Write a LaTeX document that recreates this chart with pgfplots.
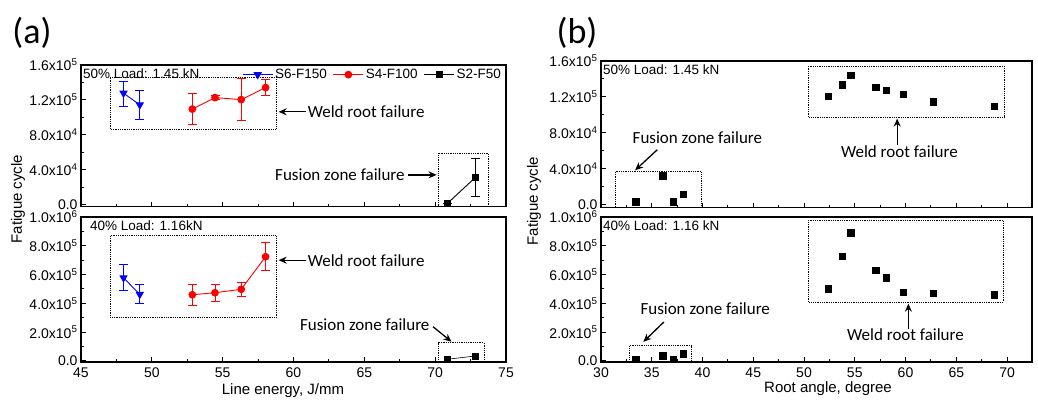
\documentclass[border=0pt]{standalone}
\usepackage{pgfplots}
\pgfplotsset{compat=1.18}
\usepackage{fontspec}
\setmainfont{Liberation Sans}
\newfontfamily\calib{Carlito}
\usetikzlibrary{arrows.meta}

\pgfplotsset{
  mystyle/.style={
    scale only axis, clip=false,
    /pgf/number format/assume math mode=true,
    tick align=inside, xtick pos=bottom, ytick pos=left,
    axis line style={line width=1.3pt},
    tick style={black, line width=1pt},
    major tick length=5pt, minor tick length=3pt,
    minor x tick num=1, minor y tick num=1,
    tick label style={font=\fontsize{14}{16}\selectfont},
    xticklabel style={yshift=-2pt},
    scaled ticks=false,
    xtick={30,35,...,75},
  },
  topy/.style={ymax=160000,
    ytick={0,40000,80000,120000,160000},
    yticklabels={0.0,4.0x10\textsuperscript{4},8.0x10\textsuperscript{4},1.2x10\textsuperscript{5},1.6x10\textsuperscript{5}}},
  boty/.style={ymin=-7000, ymax=1000000,
    ytick={0,200000,400000,600000,800000,1000000},
    yticklabels={0.0,2.0x10\textsuperscript{5},4.0x10\textsuperscript{5},6.0x10\textsuperscript{5},8.0x10\textsuperscript{5},1.0x10\textsuperscript{6}}},
  eb/.style={error bars/y dir=both, error bars/y explicit,
    error bars/error bar style={line width=0.9pt},
    error bars/error mark options={#1, rotate=90, mark size=4.5pt, line width=0.9pt}},
  bl/.style={blue, line width=0.9pt, mark=triangle*, mark size=4pt, mark options={rotate=180, solid}, eb=blue},
  rd/.style={red, line width=0.9pt, mark=*, mark size=3.4pt, mark options={solid}, eb=red},
  bk/.style={black, line width=0.9pt, mark=square*, mark size=3pt, mark options={solid}, eb=black},
  sq/.style={only marks, black, mark=square*, mark size=3.2pt},
}
\tikzset{
  box/.style={densely dotted, line width=0.8pt},
  arr/.style={-{Stealth[length=8pt,width=7pt]}, line width=1.3pt},
  ann/.style={font=\calib\fontsize{17}{20}\selectfont, inner sep=0pt},
}

\begin{document}
\begin{tikzpicture}
\path[use as bounding box] (0pt,0pt) rectangle (1038pt,399pt);

% ---------------- (a) top ----------------
\begin{axis}[mystyle, topy, ymin=-2300, at={(81pt,192.5pt)}, anchor=south west, width=425pt, height=141.5pt,
  xmin=45, xmax=75, xticklabels={},
  legend style={at={(1,1)}, anchor=north east, xshift=-3pt, yshift=-2pt, draw=none, fill=none,
    font=\fontsize{13.5}{15}\selectfont, inner sep=0pt, legend columns=3,
    /tikz/every even column/.append style={column sep=4pt}},
  legend image code/.code={\draw[mark repeat=2,mark phase=2] plot coordinates {(0pt,0pt) (15pt,0pt) (30pt,0pt)};}]
\addplot[bl] table[x=x, y=y, y error plus=ep, y error minus=em] {
x y ep em
48.0 127700 14000 14700
49.15 114300 16300 16800
};
\addlegendentry{S6-F150}
\addplot[rd] table[x=x, y=y, y error plus=ep, y error minus=em] {
x y ep em
52.86 109400 17800 17200
54.46 122600 2500 2500
56.31 120300 24700 24300
58.03 134100 9100 9500
};
\addlegendentry{S4-F100}
\addplot[bk] table[x=x, y=y, y error plus=ep, y error minus=em] {
x y ep em
70.88 1500 0 0
72.85 31200 21800 22200
};
\addlegendentry{S2-F50}
\draw[box] (axis cs:47.05,86500) rectangle (axis cs:58.76,146000);
\draw[box] (axis cs:70.2,-2000) rectangle (axis cs:73.75,59000);
\draw[arr] (axis cs:60.85,106300) -- (axis cs:58.95,106300);
\node[ann, anchor=west] at (axis cs:61.0,106300) {Weld root failure};
\draw[arr] (axis cs:68.1,34000) -- (axis cs:70.1,34000);
\node[ann] at (axis cs:63.28,34000) {Fusion zone failure};
\end{axis}

% ---------------- (a) bottom ----------------
\begin{axis}[mystyle, boty, at={(81pt,37pt)}, anchor=south west, width=425pt, height=145pt,
  xmin=45, xmax=75]
\addplot[bl] table[x=x, y=y, y error plus=ep, y error minus=em] {
x y ep em
48.0 578000 93000 90000
49.15 463000 72000 60000
};
\addplot[rd] table[x=x, y=y, y error plus=ep, y error minus=em] {
x y ep em
52.86 460000 72000 73000
54.46 474000 61000 62000
56.31 498000 46000 47000
58.03 724000 98000 92000
};
\addplot[black, line width=0.6pt, mark=square*, mark size=3pt, mark options={solid}] table {
70.88 12000
72.85 35000
};
\draw[box] (axis cs:47.05,300000) rectangle (axis cs:58.76,870000);
\draw[box] (axis cs:70.2,-3000) rectangle (axis cs:73.45,127000);
\draw[arr] (axis cs:60.85,700000) -- (axis cs:58.95,700000);
\node[ann, anchor=west] at (axis cs:61.0,700000) {Weld root failure};
\draw[arr] (axis cs:69.85,238000) -- (axis cs:71.15,134000);
\node[ann] at (axis cs:65.03,252000) {Fusion zone failure};
\end{axis}

% ---------------- (b) top ----------------
\begin{axis}[mystyle, topy, ymin=-3800, at={(601pt,191.3pt)}, anchor=south west, width=431pt, height=146.7pt,
  xmin=30, xmax=72.46, xticklabels={}]
\addplot[sq] table {
33.42 2900
36.08 31900
37.10 2900
38.09 11200
52.38 120600
53.76 133500
54.58 144400
57.08 131000
58.07 127300
59.75 122800
62.75 114600
68.73 109800
};
\draw[box] (axis cs:31.4,-3000) rectangle (axis cs:39.85,36800);
\draw[box] (axis cs:50.44,97500) rectangle (axis cs:69.7,154500);
\draw[arr] (axis cs:35.55,61000) -- (axis cs:33.36,38000);
\node[ann] at (axis cs:39.5,74000) {Fusion zone failure};
\draw[arr] (axis cs:59.18,66700) -- (axis cs:59.18,95700);
\node[ann] at (axis cs:59.4,58500) {Weld root failure};
\end{axis}

% ---------------- (b) bottom ----------------
\begin{axis}[mystyle, boty, at={(601pt,37pt)}, anchor=south west, width=431pt, height=145pt,
  xmin=30, xmax=72.46]
\addplot[sq] table {
33.42 14000
36.08 37000
37.10 14000
38.09 50000
52.38 501000
53.76 729000
54.58 892000
57.08 632000
58.07 579000
59.75 476000
62.75 471000
68.73 460000
};
\draw[box] (axis cs:32.79,-3000) rectangle (axis cs:38.9,106000);
\draw[box] (axis cs:50.44,409000) rectangle (axis cs:69.6,977000);
\draw[arr] (axis cs:36.2,271000) -- (axis cs:34.17,133000);
\node[ann] at (axis cs:40.27,363000) {Fusion zone failure};
\draw[arr] (axis cs:60.28,225000) -- (axis cs:60.28,398000);
\node[ann] at (axis cs:60.0,180000) {Weld root failure};
\end{axis}

% ---------------- texts ----------------
\node[anchor=west, inner sep=0pt, font=\fontsize{13.5}{15}\selectfont] at (83pt,325pt) {50\% Load: 1.45 kN};
\node[anchor=west, inner sep=0pt, font=\fontsize{13.5}{15}\selectfont] at (90pt,173pt) {40\% Load: 1.16kN};
\node[anchor=west, inner sep=0pt, font=\fontsize{13.5}{15}\selectfont] at (603pt,329pt) {50\% Load: 1.45 kN};
\node[anchor=west, inner sep=0pt, font=\fontsize{13.5}{15}\selectfont] at (603pt,173pt) {40\% Load: 1.16 kN};
\node[font=\calib\fontsize{36}{38}\selectfont] at (32pt,366pt) {(a)};
\node[font=\calib\fontsize{36}{38}\selectfont] at (577pt,366pt) {(b)};
\node[rotate=90, font=\fontsize{15}{17}\selectfont] at (18pt,200pt) {Fatigue cycle};
\node[rotate=90, font=\fontsize{15}{17}\selectfont] at (534pt,198pt) {Fatigue cycle};
\node[font=\fontsize{15}{17}\selectfont] at (283pt,8pt) {Line energy, J/mm};
\node[font=\fontsize{15}{17}\selectfont] at (828pt,10pt) {Root angle, degree};
\end{tikzpicture}
\end{document}
